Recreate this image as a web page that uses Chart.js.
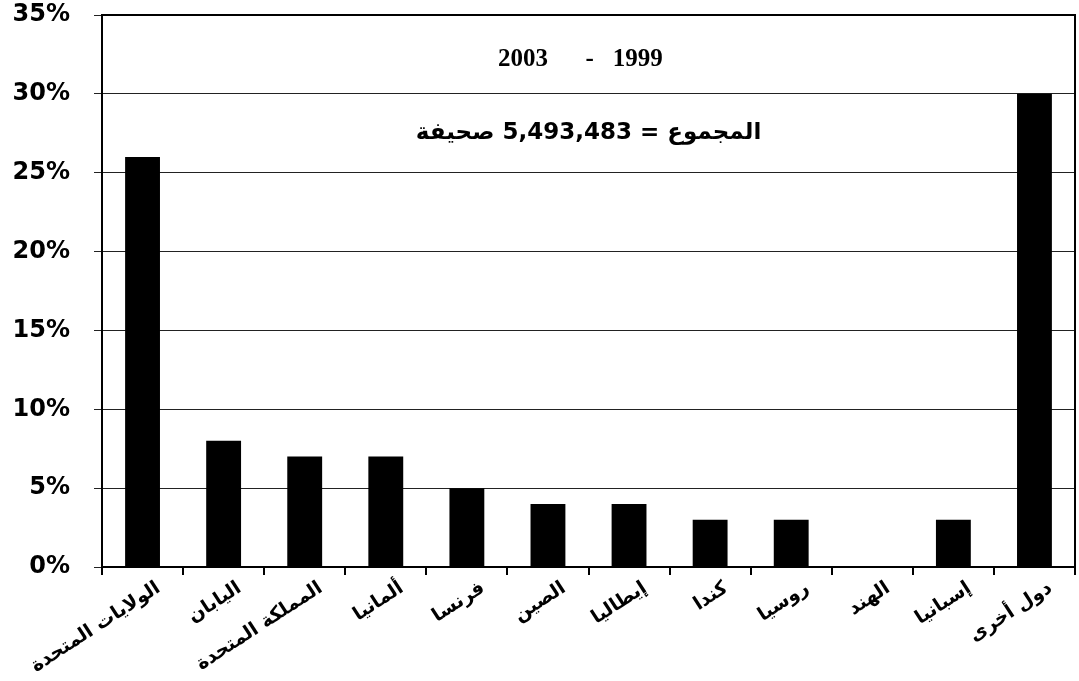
<!DOCTYPE html>
<html>
<head>
<meta charset="utf-8">
<script src="https://cdn.jsdelivr.net/npm/chart.js@4"></script>
<style>
  html, body { margin: 0; padding: 0; background: #fff; }
  #wrap { width: 1079px; height: 681px; }
</style>
</head>
<body>
<div id="wrap"><canvas id="papersChart"></canvas></div>
<script>
const countries = ['الولايات المتحدة', 'اليابان', 'المملكة المتحدة', 'ألمانيا', 'فرنسا', 'الصين',
    'إيطاليا', 'كندا', 'روسيا', 'الهند', 'إسبانيا', 'دول أخرى'];
const shares = [26, 8, 7, 7, 5, 4, 4, 3, 3, 0, 3, 30];
const yTicks = [0, 5, 10, 15, 20, 25, 30, 35];
const periodText = '2003      -   1999';
const totalText = 'المجموع = 5,493,483 صحيفة';

// box around the plot and the two text lines inside it
const framePlugin = {
    id: 'frame',
    afterDraw(chart) {
        const { ctx, chartArea: a, scales } = chart;
        ctx.save();
        ctx.strokeStyle = '#000';
        ctx.lineWidth = 2;
        ctx.strokeRect(a.left, a.top, a.right - a.left, a.bottom - a.top);

        ctx.fillStyle = '#000';
        ctx.textBaseline = 'middle';
        ctx.textAlign = 'center';
        ctx.font = 'bold 25px "Liberation Serif"';
        ctx.fillText(periodText, scales.x.getPixelForValue(5.4), scales.y.getPixelForValue(32.2));
        ctx.font = 'bold 23px "DejaVu Sans", "Liberation Serif"';
        ctx.fillText(totalText, scales.x.getPixelForValue(5.5), scales.y.getPixelForValue(27.5));
        ctx.restore();
    }
};

function renderChart() {
    const ctx = document.getElementById('papersChart').getContext('2d');
    new Chart(ctx, {
        type: 'bar',
        data: {
            labels: countries,
            datasets: [{
                data: shares,
                backgroundColor: '#000',
                borderWidth: 0,
                categoryPercentage: 1,
                barPercentage: 0.43
            }]
        },
        options: {
            responsive: true,
            maintainAspectRatio: false,
            animation: false,
            layout: { padding: { top: 15, right: 4, left: 0, bottom: 0 } },
            plugins: {
                legend: { display: false },
                tooltip: { enabled: false }
            },
            scales: {
                x: {
                    offset: true,
                    afterFit: (scale) => {
                        scale.height = 114;
                        scale.paddingLeft = 0;
                        scale.paddingRight = 0;
                    },
                    grid: {
                        offset: true,
                        drawOnChartArea: false,
                        drawTicks: true,
                        tickLength: 8,
                        color: '#000',
                        lineWidth: 2
                    },
                    border: { color: '#000', width: 2 },
                    ticks: {
                        color: '#000',
                        minRotation: 33,
                        maxRotation: 33,
                        autoSkip: false,
                        padding: 2,
                        labelOffset: 16,
                        font: { family: '"DejaVu Sans"', size: 19, weight: 'bold' }
                    }
                },
                y: {
                    min: 0,
                    max: 35,
                    afterBuildTicks: (axis) => {
                        axis.ticks = yTicks.map(v => ({ value: v }));
                    },
                    afterFit: (scale) => {
                        scale.width = 102;
                        scale.paddingTop = 0;
                        scale.paddingBottom = 0;
                    },
                    grid: {
                        color: '#222',
                        lineWidth: 1,
                        tickLength: 8
                    },
                    border: { color: '#000', width: 2 },
                    ticks: {
                        color: '#000',
                        padding: 24,
                        callback: (v) => v + '%',
                        font: { family: '"DejaVu Sans"', size: 24, weight: 'bold' }
                    }
                }
            }
        },
        plugins: [framePlugin]
    });
}

document.addEventListener('DOMContentLoaded', () => {
    renderChart();
});
</script>
</body>
</html>
